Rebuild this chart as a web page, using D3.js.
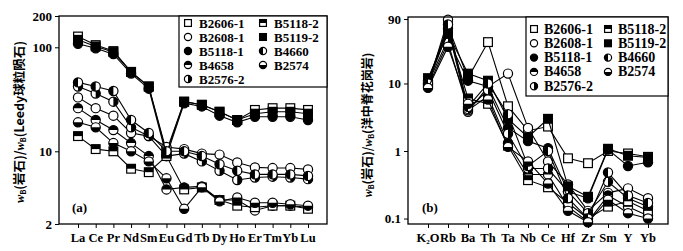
<!DOCTYPE html>
<meta charset="utf-8">
<style>
body { margin: 0; background: #fff; }
text { font-family: "Liberation Serif", "DejaVu Serif", serif; font-weight: bold; fill: #000; }
.cjk { font-family: "Noto Sans CJK SC", sans-serif; font-weight: bold; }
.frame { fill: none; stroke: #000; stroke-width: 1.3; }
.line { fill: none; stroke: #000; stroke-width: 1.1; }
</style>
<body>
<script src="https://cdn.jsdelivr.net/npm/d3@7"></script>
<script>
// samples and the marker used for each
var samples = ["B2606-1", "B2608-1", "B5118-1", "B4658", "B2576-2", "B5118-2", "B5119-2", "B4660", "B2574"];
var markers = ["sqOpen", "cOpen", "cFill", "cTop", "cRight", "sqHalf", "sqFill", "cLeft", "cBottom"];

// (a) REE, chondrite normalised
var ree = ["La", "Ce", "Pr", "Nd", "Sm", "Eu", "Gd", "Tb", "Dy", "Ho", "Er", "Tm", "Yb", "Lu"];
var reeB2606_1 = [127, 105, 92, 58, 42, 10, 30, 28, 24, 20, 25, 26, 26, 25];
var reeB2608_1 = [33, 26, 22, 15, 14, 11, 10.5, 9.5, 9.3, 7.8, 7.0, 6.9, 6.9, 6.7];
var reeB5118_1 = [108, 98, 86, 56, 40, 9, 29, 27, 22, 19, 21.5, 21.5, 21.5, 20];
var reeB4658 = [26, 20, 16, 12, 9, 4.3, 4.5, 4.6, 3.4, 3.4, 2.7, 3.0, 3.0, 2.9];
var reeB2576_2 = [42, 36, 30, 17, 14, 9, 9.5, 8, 6.5, 5.3, 5.6, 5.7, 5.6, 5.4];
var reeB5118_2 = [14, 10.5, 10, 6.8, 6.3, 9, 4.3, 4.5, 3.4, 3.0, 2.9, 3.0, 3.0, 2.8];
var reeB5119_2 = [118, 102, 90, 58, 42, 9.5, 30, 28, 24, 20, 23, 24, 24, 23];
var reeB4660 = [46, 42, 38, 20, 15, 10, 10, 9, 7.5, 6.5, 6.0, 6.0, 6.0, 5.8];
var reeB2574 = [19, 17, 12, 10, 8, 5.5, 2.8, 4.5, 3.3, 3.6, 3.2, 3.2, 3.1, 3.0];

// (b) trace elements, ORG normalised
var tre = ["K2O", "Rb", "Ba", "Th", "Ta", "Nb", "Ce", "Hf", "Zr", "Sm", "Y", "Yb"];
var treB2606_1 = [11, 70, 12, 41, 4.6, 2.0, 2.3, 0.78, 0.66, 1.0, 0.92, 0.82];
var treB2608_1 = [9.5, 88, 3.8, 9, 14, 2.2, 0.7, 0.32, 0.13, 0.24, 0.28, 0.2];
var treB5118_1 = [10, 45, 11, 9, 2.2, 1.4, 1.1, 0.25, 0.2, 1.05, 0.6, 0.68];
var treB4658 = [11, 65, 4.0, 6.5, 1.3, 0.45, 0.45, 0.15, 0.09, 0.22, 0.15, 0.11];
var treB2576_2 = [9, 40, 4.2, 8, 1.8, 0.55, 0.55, 0.25, 0.12, 0.35, 0.2, 0.15];
var treB5118_2 = [10, 60, 6, 5, 1.2, 0.37, 0.29, 0.17, 0.1, 0.15, 0.18, 0.13];
var treB5119_2 = [12, 55, 14, 11, 3.0, 1.6, 3.0, 0.3, 0.21, 1.08, 0.85, 0.8];
var treB4660 = [10, 75, 4.5, 10, 3.5, 0.6, 1.0, 0.2, 0.1, 0.48, 0.22, 0.17];
var treB2574 = [8.6, 35, 5, 5.8, 1.15, 0.7, 0.33, 0.13, 0.088, 0.19, 0.12, 0.1];

var reeTicks = [2, 10, 100, 200];
var treTicks = [0.1, 1, 10, 90];

var reeData = [reeB2606_1, reeB2608_1, reeB5118_1, reeB4658, reeB2576_2, reeB5118_2, reeB5119_2, reeB4660, reeB2574];
var treData = [treB2606_1, treB2608_1, treB5118_1, treB4658, treB2576_2, treB5118_2, treB5119_2, treB4660, treB2574];

var width = 683, height = 251;
var svg = d3.select("body").append("svg")
    .attr("width", width)
    .attr("height", height);

function marker(g, type, r) {
  if (type == "sqOpen" || type == "sqFill" || type == "sqHalf") {
    var s = r * 0.95;
    g.append("rect").attr("x", -s).attr("y", -s).attr("width", 2 * s).attr("height", 2 * s)
      .attr("fill", type == "sqFill" ? "#000" : "#fff").attr("stroke", "#000").attr("stroke-width", 1.2);
    if (type == "sqHalf")
      g.append("rect").attr("x", -s).attr("y", -s).attr("width", 2 * s).attr("height", s).attr("fill", "#000");
    return;
  }
  g.append("circle").attr("r", r)
    .attr("fill", type == "cFill" ? "#000" : "#fff").attr("stroke", "#000").attr("stroke-width", 1.2);
  var half = {
    cTop: "M" + (-r) + ",0A" + r + "," + r + " 0 0 1 " + r + ",0Z",
    cBottom: "M" + (-r) + ",0A" + r + "," + r + " 0 0 0 " + r + ",0Z",
    cLeft: "M0," + (-r) + "A" + r + "," + r + " 0 0 0 0," + r + "Z",
    cRight: "M0," + (-r) + "A" + r + "," + r + " 0 0 1 0," + r + "Z"
  }[type];
  if (half) g.append("path").attr("d", half).attr("fill", "#000");
}

function panel(opt) {
  var x = d3.scalePoint().domain(opt.cats).range(opt.xr);
  var y = d3.scaleLog().domain(opt.yd).range([224, opt.top]);
  var g = svg.append("g");

  // lines and markers, sample by sample
  var line = d3.line().x(function(d, i) { return x(opt.cats[i]); }).y(function(d) { return y(d); });
  opt.data.forEach(function(vals, k) {
    g.append("path").attr("class", "line").attr("d", line(vals));
    vals.forEach(function(v, i) {
      marker(g.append("g").attr("transform", "translate(" + x(opt.cats[i]) + "," + y(v) + ")"), markers[k], 4.6);
    });
  });

  g.append("rect").attr("class", "frame")
    .attr("x", opt.left).attr("y", opt.top)
    .attr("width", opt.right - opt.left).attr("height", 224 - opt.top);

  var ya = g.append("g").attr("transform", "translate(" + opt.left + ",0)")
    .call(d3.axisLeft(y).tickValues(opt.ticks).tickSize(4).tickPadding(3).tickFormat(function(d) { return d; }));
  ya.select(".domain").remove();
  ya.selectAll("text").style("font-size", "13px");

  var xa = g.append("g").attr("transform", "translate(0,224)")
    .call(d3.axisBottom(x).tickSize(4).tickPadding(4).tickFormat(""));
  xa.select(".domain").remove();
  opt.cats.forEach(function(c) {
    var t = g.append("text").attr("x", x(c)).attr("y", 242).attr("text-anchor", "middle").style("font-size", "12.5px");
    if (c == "K2O") {
      t.append("tspan").text("K");
      t.append("tspan").text("2").style("font-size", "7px").attr("dy", 2);
      t.append("tspan").text("O").attr("dy", -2);
    } else t.text(c);
  });

  g.append("text").attr("x", opt.tag[0]).attr("y", 212).style("font-size", "13px").text(opt.label);

  // y title
  var yt = g.append("text").attr("class", "cjk")
    .attr("transform", "translate(" + opt.titleX + "," + opt.titleY + ") rotate(-90)")
    .attr("text-anchor", "middle").style("font-size", opt.tfs + "px");
  yt.append("tspan").text("w").style("font-style", "italic").style("font-family", "Liberation Serif");
  yt.append("tspan").text("B").style("font-size", "7px").attr("dy", 2);
  yt.append("tspan").text("(岩石)/").attr("dy", -2);
  yt.append("tspan").text("w").style("font-style", "italic").style("font-family", "Liberation Serif");
  yt.append("tspan").text("B").style("font-size", "7px").attr("dy", 2);
  yt.append("tspan").text("(" + opt.norm + ")").attr("dy", -2);

  // legend
  var L = opt.legend;
  g.append("rect").attr("x", L.x).attr("y", opt.top).attr("width", opt.right - L.x).attr("height", L.h)
    .attr("fill", "#fff").attr("stroke", "#000").attr("stroke-width", 1.2);
  samples.forEach(function(s, k) {
    var col = k < 5 ? 0 : 1, row = k < 5 ? k : k - 5;
    var cx = col ? L.mx2 : L.mx1, cy = L.y0 + row * L.dy;
    marker(g.append("g").attr("transform", "translate(" + cx + "," + cy + ")"), markers[k], 3.6);
    g.append("text").attr("x", cx + L.gap).attr("y", cy + 4.5).style("font-size", L.fs + "px").text(s);
  });
}

panel({
  cats: ree, data: reeData, xr: [78, 308], yd: [2, 200], top: 16,
  left: 59, right: 327, ticks: reeTicks, tag: [72], label: "(a)",
  titleX: 24, titleY: 122, tfs: 12.5, norm: "Leedy球粒陨石",
  legend: { x: 179, h: 71, mx1: 188, mx2: 263, y0: 23, dy: 14, gap: 11, fs: 13 }
});

panel({
  cats: tre, data: treData, xr: [428, 648], yd: [0.083, 96.5], top: 17,
  left: 408, right: 668, ticks: treTicks, tag: [422], label: "(b)",
  titleX: 372, titleY: 125, tfs: 12, norm: "洋中脊花岗岩",
  legend: { x: 526, h: 79, mx1: 534, mx2: 608, y0: 29, dy: 14.3, gap: 10, fs: 14 }
});
</script>
</body>
